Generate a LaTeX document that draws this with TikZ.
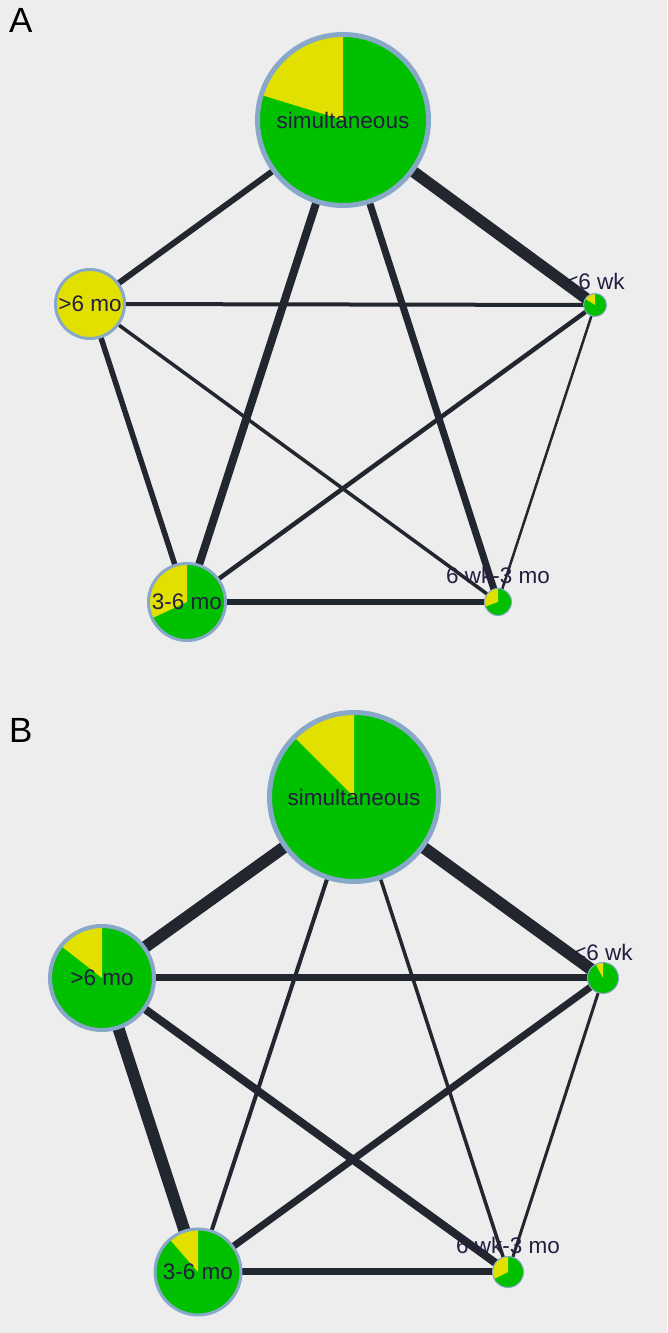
\documentclass[tikz,border=0pt]{standalone}
\usepackage{fontspec}
\setmainfont{Liberation Sans}
\usetikzlibrary{positioning}
\definecolor{bgGrey}{HTML}{EDEDED}
\definecolor{pieGreen}{HTML}{00C000}
\definecolor{pieYellow}{HTML}{E2E000}
\definecolor{pieRim}{HTML}{88A8CA}
\definecolor{edgeDark}{HTML}{22262E}
\definecolor{labelInk}{HTML}{241E40}
\begin{document}
\begin{tikzpicture}[x=1pt, y=1pt, font=\fontsize{22.5}{26}\selectfont]
        \fill[bgGrey] (0, 0) rectangle (667, 1333);
        \useasboundingbox (0, 0) rectangle (667, 1333);
        % panel A
        \node[font=\fontsize{35}{40}\selectfont, anchor=west, inner sep=0pt] (tagA) at (9, 1312.5) {A};
        \foreach \n/\x/\y in {simA/343/1213, gtA/90/1029, ltA/595/1028, msA/187/731, wmA/498/731}{
            \coordinate (\n) at (\x, \y);
        }
        % panel B
        \node[font=\fontsize{35}{40}\selectfont, anchor=west, inner sep=0pt] (tagB) at (9, 603) {B};
        \foreach \n/\x/\y in {simB/354/536, gtB/102/355, ltB/603/355, msB/198/61, wmB/508/61}{
            \coordinate (\n) at (\x, \y);
        }
        \foreach \a/\b/\w in {simA/ltA/11.5, simA/gtA/6, simA/msA/8, simA/wmA/7, gtA/ltA/4,
                gtA/msA/5.5, gtA/wmA/3.5, ltA/msA/4.5, ltA/wmA/2.5, msA/wmA/6,
                simB/gtB/12, simB/ltB/12, simB/msB/4, simB/wmB/3.5, gtB/ltB/7,
                gtB/msB/12, gtB/wmB/8, ltB/msB/7, ltB/wmB/3, msB/wmB/7}{
            \draw[edgeDark, line width = \w pt] (\a) -- (\b);
        }
        \foreach \n/\r/\t/\rim in {simA/85.5/163/5, gtA/34.5/450/3, ltA/11.5/148/1, msA/38.5/205/3, wmA/13.5/200/1,
                simB/84.5/135/5, gtB/52/142/4, ltB/15.5/118/1, msB/43/131/3, wmB/15.5/207/1}{
            \fill[pieGreen] (\n) circle (\r);
            \fill[pieYellow] (\n) -- ++(90:\r) arc[start angle = 90, end angle = \t, radius = \r] -- cycle;
            \draw[pieRim, line width = \rim pt] (\n) circle (\r);
        }
        \foreach \n/\t in {simA/simultaneous, gtA/{>6 mo}, msA/{3-6 mo}, simB/simultaneous, gtB/{>6 mo}, msB/{3-6 mo}}{
            \node[labelInk, inner sep = 0pt] (\n-lab) at (\n) {\t};
        }
        \node[labelInk, inner sep = 0pt] (ltA-lab) at ([yshift = 24pt]ltA) {<6 wk};
        \node[labelInk, inner sep = 0pt] (wmA-lab) at ([yshift = 27pt]wmA) {6 wk-3 mo};
        \node[labelInk, inner sep = 0pt] (ltB-lab) at ([yshift = 26pt]ltB) {<6 wk};
        \node[labelInk, inner sep = 0pt] (wmB-lab) at ([yshift = 27pt]wmB) {6 wk-3 mo};
    \end{tikzpicture}
\end{document}
